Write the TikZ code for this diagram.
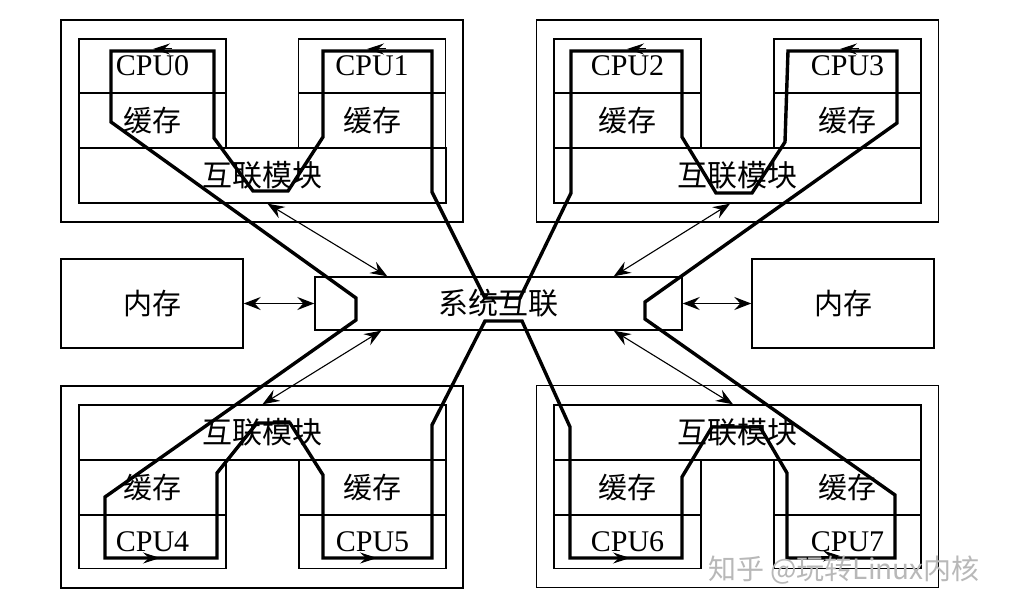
\documentclass[tikz,border=0pt]{standalone}
\usepackage{fontspec}
\setmainfont{Liberation Serif}
\newfontfamily\cjk{Noto Sans CJK SC}
\usetikzlibrary{arrows.meta}
\tikzset{
  box/.style 2 args={draw, line width=1.4pt, minimum width=#1, minimum height=#2},
  cpu/.style={box={147}{54}, font=\fontsize{30}{30}\selectfont},
  cache/.style={box={147}{55}, font=\cjk\fontsize{29}{29}\selectfont},
  module/.style={box={367}{55}, font=\cjk\fontsize{30}{30}\selectfont},
  group/.style={box={402}{202}},
  memory/.style={box={182}{89}, font=\cjk\fontsize{29}{29}\selectfont},
  route/.style={line width=3.4pt},
  link/.style={line width=1.1pt, {Stealth[length=17pt,width=13pt,inset=6pt]}-{Stealth[length=17pt,width=13pt,inset=6pt]}},
  flowtip/.style={line width=1pt, -{Stealth[length=17pt,width=11pt,inset=6pt]}}
}
\begin{document}
\begin{tikzpicture}[x=1pt,y=-1pt]
\tikzstyle{every node}+=[inner sep=0pt]
\fill [white] (0,0) rectangle (1015,610);
\useasboundingbox (0,0) rectangle (1015,610);
\draw [route] (485,298) -- (432,192) -- (432,51) -- (323,51) -- (323,137) -- (288,191) -- (253,191) -- (214,138) -- (214,51) -- (111,51) -- (111,122) -- (356,298) -- (356,320) -- (105,497) -- (105,558) -- (217,558) -- (217,473) -- (257,423) -- (290,423) -- (323,475) -- (323,558) -- (432,558) -- (432,425) -- (485,321) -- (522,321) -- (570,427) -- (570,558) -- (682,558) -- (682,477) -- (712,427) -- (760,427) -- (787,473) -- (787,558) -- (895,558) -- (895,495) -- (645,319) -- (645,302) -- (897,123) -- (897,51) -- (788,51) -- (785,142) -- (752,193) -- (716,193) -- (682,137) -- (682,51) -- (571,51) -- (571,193) -- (520,298) -- cycle;
\draw [flowtip] (172,49) -- (153,49);
\draw [flowtip] (386,49) -- (367,49);
\draw [flowtip] (646,49) -- (627,49);
\draw [flowtip] (859,49) -- (840,49);
\draw [flowtip] (141,558) -- (160,558);
\draw [flowtip] (358,558) -- (377,558);
\draw [flowtip] (611,558) -- (630,558);
\draw [flowtip] (821,556) -- (840,556);
\node [group] (tlg) at (262,121) {};
\node [group] (trg) at (737.5,121) {};
\node [group] (blg) at (262,487) {};
\node [group] (brg) at (737.5,486.5) {};
\node [cpu] (c0) at (152.5,66) {CPU0};
\node [cache] (k0) at (152.5,120.5) {缓存};
\node [cpu] (c1) at (372,66) {CPU1};
\node [cache] (k1) at (372,120.5) {缓存};
\node [module] (tlm) at (262.5,175.5) {互联模块};
\node [cpu] (c2) at (627.5,66) {CPU2};
\node [cache] (k2) at (627.5,120.5) {缓存};
\node [cpu] (c3) at (847.5,66) {CPU3};
\node [cache] (k3) at (847.5,120.5) {缓存};
\node [module] (trm) at (737.5,175.5) {互联模块};
\node [module] (blm) at (262.5,432.5) {互联模块};
\node [cache] (k4) at (152.5,487.5) {缓存};
\node [cpu] (c4) at (152.5,541.5) {CPU4};
\node [cache] (k5) at (372.5,487.5) {缓存};
\node [cpu] (c5) at (372.5,541.5) {CPU5};
\node [module] (brm) at (737.5,432.5) {互联模块};
\node [cache] (k6) at (627.5,487.5) {缓存};
\node [cpu] (c6) at (627.5,541.5) {CPU6};
\node [cache] (k7) at (847.5,487.5) {缓存};
\node [cpu] (c7) at (847.5,541.5) {CPU7};
\node [memory] (meml) at (152,303.5) {内存};
\node [memory] (memr) at (843,303.5) {内存};
\node [box={367}{53}, font=\cjk\fontsize{30}{30}\selectfont] (sys) at (498.5,303.5) {系统互联};
\draw [link] (meml.east) -- (sys.west);
\draw [link] (sys.east) -- (memr.west);
\draw [link] ([xshift=5]tlm.south) -- ([xshift=73]sys.north west);
\draw [link] ([xshift=-7.5]trm.south) -- ([xshift=-69]sys.north east);
\draw [link] ([xshift=67]sys.south west) -- (blm.north);
\draw [link] ([xshift=-69]sys.south east) -- ([xshift=-4.5]brm.north);
\node [font=\cjk\fontsize{28}{28}\selectfont, text=black!28] (wm) at (844,570) {知乎 @玩转Linux内核};
\end{tikzpicture}
\end{document}
